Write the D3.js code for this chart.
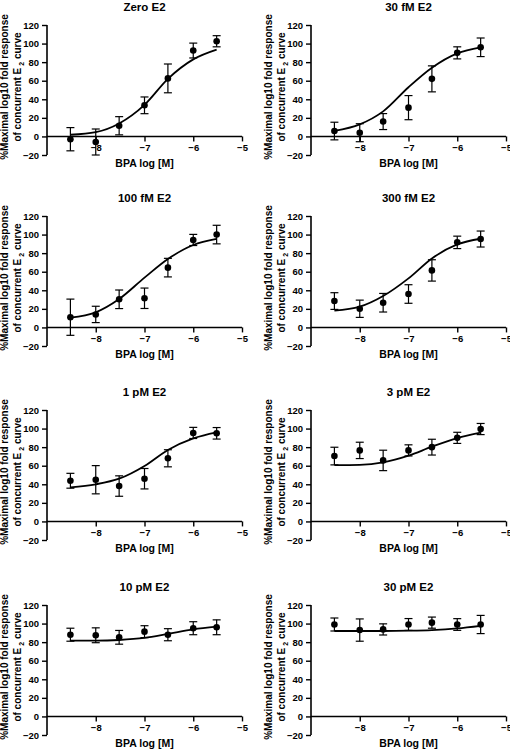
<!DOCTYPE html>
<html>
<head>
<meta charset="utf-8">
<script src="https://cdn.jsdelivr.net/npm/d3@7"></script>
<style>
  html, body { margin: 0; padding: 0; background: #fff; }
  svg { display: block; font-family: "Liberation Sans", Arial, sans-serif; font-weight: bold; }
</style>
</head>
<body>
<script>
// ---- data ----
const logBPA = [-8.52, -8, -7.52, -7, -6.52, -6, -5.52];
const xTicks = [-8, -7, -6, -5];
const yTicks = [-20, 0, 20, 40, 60, 80, 100, 120];
const titles = ["Zero E2", "30 fM E2", "100 fM E2", "300 fM E2", "1 pM E2", "3 pM E2", "10 pM E2", "30 pM E2"];

const meanZero = [-3, -6, 11.5, 33.5, 62.5, 92.5, 102.5];
const errZero  = [12.5, 14, 9.8, 9, 15.5, 8, 6];
const fitZero  = [1.8, 4.6, 14, 34, 62, 83, 93.5];

const mean30fM = [5.8, 4, 16, 31, 62, 90, 96];
const err30fM  = [9.5, 9.7, 8.6, 13, 14, 6.5, 10];
const fit30fM  = [6, 13, 27, 53, 74, 89.5, 96];

const mean100fM = [11, 14, 30.3, 31.4, 64.4, 94.2, 100];
const err100fM  = [19.5, 8.8, 10, 11, 10, 6, 10];
const fit100fM  = [10.5, 16.3, 30.6, 53.6, 73.7, 88.8, 95.3];

const mean300fM = [28.4, 20.1, 26.6, 36, 61.4, 91.6, 95.2];
const err300fM  = [9, 9.3, 10, 10, 11.5, 6.7, 8.6];
const fit300fM  = [18, 22.3, 33.8, 52.8, 74.3, 89.4, 95.5];

const mean1pM = [43.8, 44.9, 38.1, 46, 68, 95.3, 94.9];
const err1pM  = [8, 15.2, 11, 11, 9.2, 6, 6.2];
const fit1pM  = [36.7, 40, 46, 59.7, 77, 89.5, 96];

const mean3pM = [70.4, 76.5, 65.7, 76.5, 80, 90, 99.5];
const err3pM  = [9.5, 8.8, 11, 6, 8.5, 6, 6];
const fit3pM  = [60.7, 61, 63.6, 70.8, 80.5, 89.8, 95.6];

const mean10pM = [88, 87.4, 85.2, 91.3, 88, 95, 96];
const err10pM  = [7, 8, 7.4, 6.4, 6.5, 7, 8];
const fit10pM  = [81.6, 81.6, 82.3, 84.5, 88.8, 93.8, 96.7];

const mean30pM = [99, 93, 93.7, 99, 101, 99, 99];
const err30pM  = [7, 12, 6, 6.4, 6, 6.3, 9.8];
const fit30pM  = [92, 92, 92, 92.3, 93, 94.8, 97.6];

const panelMeans = [meanZero, mean30fM, mean100fM, mean300fM, mean1pM, mean3pM, mean10pM, mean30pM];
const panelErrs  = [errZero, err30fM, err100fM, err300fM, err1pM, err3pM, err10pM, err30pM];
const panelFits  = [fitZero, fit30fM, fit100fM, fit300fM, fit1pM, fit3pM, fit10pM, fit30pM];

// ---- layout ----
const W = 510, H = 749;
const colX = [47, 311];
const rowTop = [25, 216, 410, 605];
const plotW = 195, plotH = 130;

const svg = d3.select("body").append("svg").attr("width", W).attr("height", H);

titles.forEach((title, i) => {
  const x0 = colX[i % 2], top = rowTop[Math.floor(i / 2)];
  const g = svg.append("g").attr("transform", `translate(${x0},${top})`);
  const x = d3.scaleLinear().domain([-9, -5]).range([0, plotW]);
  const y = d3.scaleLinear().domain([-20, 120]).range([plotH, 0]);

  // y axis
  const yAxis = g.append("g").call(d3.axisLeft(y).tickValues(yTicks).tickSize(5).tickPadding(3).tickFormat(d3.format("d")));
  yAxis.select(".domain").attr("d", `M0,${y(120)}V${y(-20)}`).attr("stroke-width", 1.6);
  yAxis.selectAll(".tick line").attr("stroke-width", 1.4);
  yAxis.selectAll("text").attr("font-size", 9.5).attr("font-weight", "bold").attr("fill", "#000")
    .attr("font-family", '"Liberation Sans", Arial, sans-serif');

  // x axis at y=0
  const xAxis = g.append("g").attr("transform", `translate(0,${y(0)})`)
    .call(d3.axisBottom(x).tickValues(xTicks).tickSize(5).tickPadding(3).tickFormat(d3.format("d")));
  xAxis.select(".domain").attr("d", `M0,0H${plotW}`).attr("stroke-width", 1.6);
  xAxis.selectAll(".tick line").attr("stroke-width", 1.4);
  xAxis.selectAll("text").attr("font-size", 9.5).attr("font-weight", "bold").attr("fill", "#000")
    .attr("font-family", '"Liberation Sans", Arial, sans-serif');

  // title
  g.append("text").attr("x", plotW / 2).attr("y", -14).attr("text-anchor", "middle")
    .attr("font-size", 11.5).text(title);

  // x label
  g.append("text").attr("x", plotW / 2).attr("y", y(0) + 31).attr("text-anchor", "middle")
    .attr("font-size", 10.5).text("BPA log [M]");

  // y title
  const cy = plotH / 2 - 3;
  g.append("text").attr("transform", `translate(-39,${cy}) rotate(-90)`).attr("text-anchor", "middle")
    .attr("font-size", 10).text("%Maximal log10 fold response");
  const t2 = g.append("text").attr("transform", `translate(-26,${cy}) rotate(-90)`).attr("text-anchor", "middle")
    .attr("font-size", 10);
  t2.append("tspan").text("of concurrent E");
  t2.append("tspan").attr("font-size", 7).attr("dy", 2.5).text(" 2");
  t2.append("tspan").attr("dy", -2.5).text(" curve");

  const means = panelMeans[i], errs = panelErrs[i], fits = panelFits[i];
  const pts = logBPA.map((lx, j) => ({ lx, m: means[j], e: errs[j], f: fits[j] }));

  // fitted curve
  g.append("path").datum(pts)
    .attr("fill", "none").attr("stroke", "#000").attr("stroke-width", 1.8)
    .attr("d", d3.line().x(d => x(d.lx)).y(d => y(d.f)).curve(d3.curveMonotoneX));

  // error bars
  const eb = g.append("g").attr("stroke", "#000").attr("stroke-width", 1.2);
  pts.forEach(d => {
    const cx = x(d.lx), y1 = y(d.m + d.e), y2 = y(d.m - d.e);
    eb.append("line").attr("x1", cx).attr("x2", cx).attr("y1", y1).attr("y2", y2);
    eb.append("line").attr("x1", cx - 4).attr("x2", cx + 4).attr("y1", y1).attr("y2", y1);
    eb.append("line").attr("x1", cx - 4).attr("x2", cx + 4).attr("y1", y2).attr("y2", y2);
  });

  // points
  g.append("g").selectAll("circle").data(pts).join("circle")
    .attr("cx", d => x(d.lx)).attr("cy", d => y(d.m)).attr("r", 3.3).attr("fill", "#000");
});
</script>
</body>
</html>
